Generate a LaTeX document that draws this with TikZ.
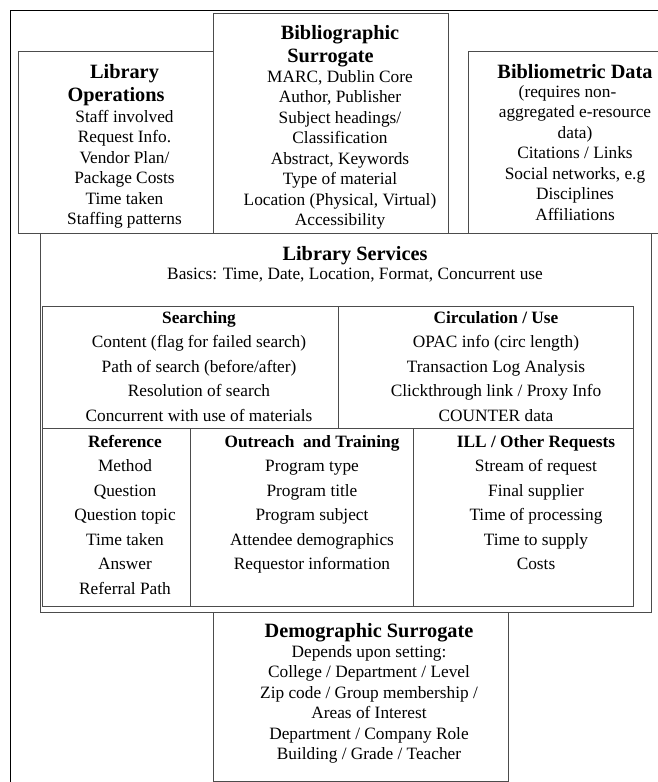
\documentclass[tikz,border=0pt]{standalone}
\usepackage{fontspec}
\setmainfont{Liberation Serif}
\tikzset{
  panel/.style={draw=black!70, line width=1pt},
  frame/.style={draw=black, line width=1pt},
  ttl/.style={font=\fontsize{20.3}{23.3}\selectfont\bfseries, align=center, anchor=north, inner sep=0pt},
  body/.style={font=\fontsize{17.3}{20.5}\selectfont, align=center, anchor=north, inner sep=0pt},
  cell/.style={font=\fontsize{17.3}{24.5}\selectfont, align=center, anchor=north, inner sep=0pt},
}
\begin{document}
\begin{tikzpicture}[x=1pt, y=-1pt]
  \useasboundingbox (0,0) rectangle (657,782);
  % outer frame (runs off the page)
  \draw[frame] (10,800) |- (680,10);
  % top row of boxes
  \draw[panel] (18,51) rectangle (213,233);
  \draw[panel] (213,13) rectangle (448,233);
  \draw[panel] (468,51) rectangle (680,233);
  % library services with its table
  \draw[panel] (40,233) rectangle (651,612);
  \draw[panel] (42,306) rectangle (633,606);
  \draw[panel] (42,428) -- (633,428);
  \draw[panel] (338,306) -- (338,428);
  \draw[panel] (190,428) -- (190,606);
  \draw[panel] (413,428) -- (413,606);
  % demographic surrogate
  \draw[panel] (213,612) rectangle (508,781);

  \node[ttl] (ops-t) at (124.5,64) {Library\\Operations\hspace*{17pt}};
  \node[body] (ops) at (124.5,110) {Staff involved\\Request Info.\\Vendor Plan/\\Package Costs\\Time taken\\Staffing patterns};

  \node[ttl] (bib-t) at (340,25) {Bibliographic\\Surrogate\hspace*{19pt}};
  \node[body] (bib) at (340,70) {MARC, Dublin Core\\Author, Publisher\\Subject headings/\\Classification\hspace*{19pt}\\Abstract, Keywords\\Type of material\\Location (Physical, Virtual)\\Accessibility};

  \node[ttl] (bm-t) at (575,64) {Bibliometric Data};
  \node[body] (bm) at (575,85) {(requires non-\hspace*{15pt}\\aggregated e-resource\hspace*{15pt}\\data)\hspace*{25pt}\\Citations / Links\\Social networks, e.g\\Disciplines\\Affiliations};

  \node[ttl] (svc-t) at (355,246) {Library Services};
  \node[body] (svc) at (355,268) {Basics: Time, Date, Location, Format, Concurrent use};

  \node[cell] (srch) at (199,311) {\textbf{Searching}\\Content (flag for failed search)\\Path of search (before/after)\\Resolution of search\\Concurrent with use of materials};
  \node[cell] (circ) at (496,311) {\textbf{Circulation / Use}\\OPAC info (circ length)\\Transaction Log Analysis\\Clickthrough link / Proxy Info\\COUNTER data};
  \node[cell] (ref) at (125,435) {\textbf{Reference}\\Method\\Question\\Question topic\\Time taken\\Answer\\Referral Path};
  \node[cell] (outr) at (312,435) {\textbf{Outreach\ \ and Training}\\Program type\\Program title\\Program subject\\Attendee demographics\\Requestor information};
  \node[cell] (ill) at (536,435) {\textbf{ILL / Other Requests}\\Stream of request\\Final supplier\\Time of processing\\Time to supply\\Costs};

  \node[ttl] (demo-t) at (369,623) {Demographic Surrogate};
  \node[body] (demo) at (369,645) {Depends upon setting:\\College / Department / Level\\Zip code / Group membership /\\Areas of Interest\hspace*{18pt}\\Department / Company Role\\Building / Grade / Teacher};
\end{tikzpicture}
\end{document}
